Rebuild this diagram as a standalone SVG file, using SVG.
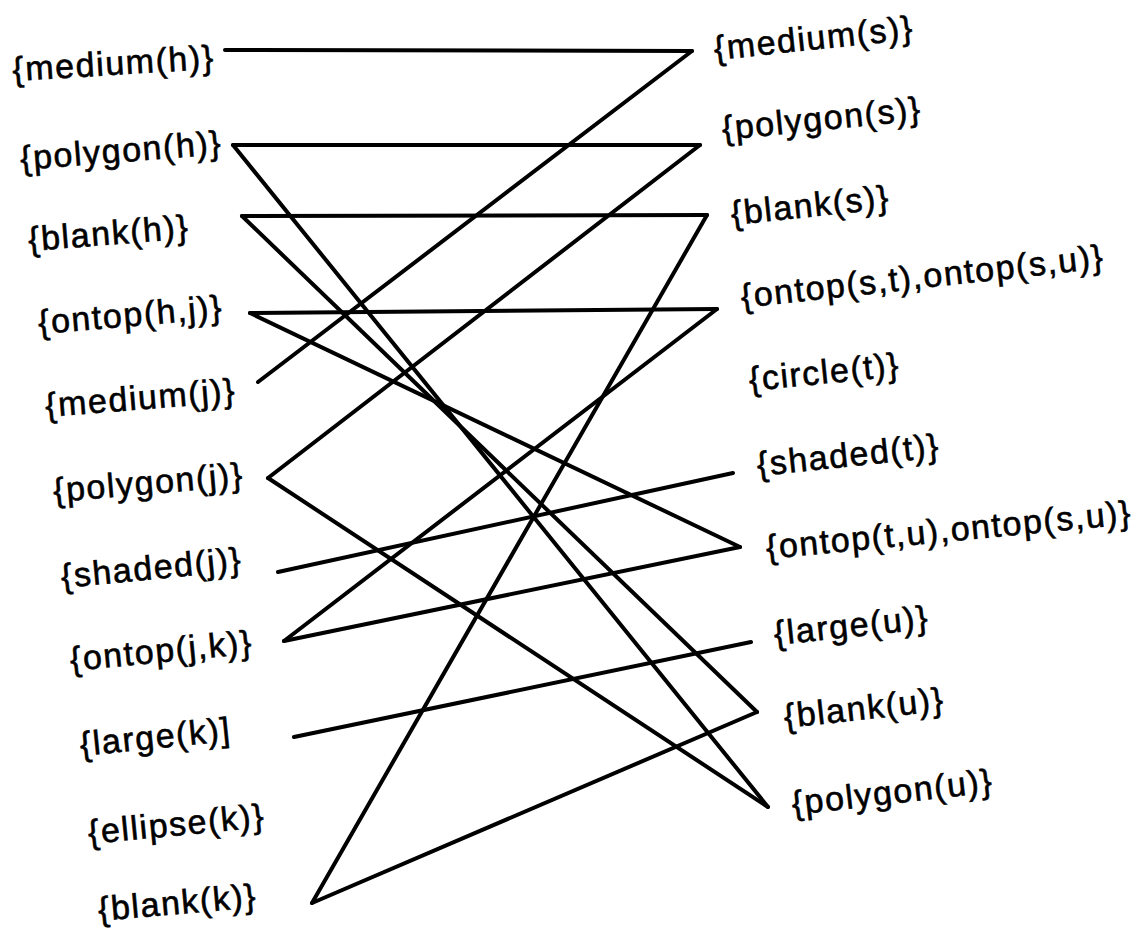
<svg xmlns="http://www.w3.org/2000/svg" width="1138" height="934" viewBox="0 0 1138 934">
<style>
.lbl{font-family:"Liberation Sans",Arial,sans-serif;font-size:34px;letter-spacing:1.6px;fill:#000;stroke:#000;stroke-width:0.6}
.c line{stroke:#000;stroke-width:4;stroke-linecap:round;fill:none}
</style>
<rect width="1138" height="934" fill="#fff"/>
<g id="connectors" class="c">
<line x1="225" y1="50" x2="692" y2="51"/>
<line x1="692" y1="51" x2="258" y2="382"/>
<line x1="233" y1="145" x2="700" y2="145"/>
<line x1="700" y1="145" x2="268" y2="478"/>
<line x1="233" y1="145" x2="768" y2="807"/>
<line x1="242" y1="216" x2="707" y2="215"/>
<line x1="707" y1="215" x2="312" y2="903"/>
<line x1="242" y1="216" x2="757" y2="712"/>
<line x1="250" y1="313" x2="717" y2="309"/>
<line x1="717" y1="309" x2="284" y2="641"/>
<line x1="250" y1="313" x2="740" y2="547"/>
<line x1="284" y1="641" x2="740" y2="547"/>
<line x1="268" y1="478" x2="768" y2="807"/>
<line x1="278" y1="572" x2="733" y2="473"/>
<line x1="294" y1="737" x2="751" y2="642"/>
<line x1="312" y1="903" x2="757" y2="712"/>
</g>
<g id="medium_h"><text class="lbl" x="13" y="81" transform="rotate(-3.5 13 81)">{medium(h)}</text></g>
<g id="polygon_h"><text class="lbl" x="21" y="170" transform="rotate(-4.5 21 170)">{polygon(h)}</text></g>
<g id="blank_h"><text class="lbl" x="29" y="251" transform="rotate(-4.5 29 251)">{blank(h)}</text></g>
<g id="ontop_hj"><text class="lbl" x="39" y="334" transform="rotate(-4.8 39 334)">{ontop(h,j)}</text></g>
<g id="medium_j"><text class="lbl" x="46" y="417" transform="rotate(-4.6 46 417)">{medium(j)}</text></g>
<g id="polygon_j"><text class="lbl" x="54" y="502" transform="rotate(-4.8 54 502)">{polygon(j)}</text></g>
<g id="shaded_j"><text class="lbl" x="62" y="588" transform="rotate(-5.5 62 588)">{shaded(j)}</text></g>
<g id="ontop_jk"><text class="lbl" x="71" y="671" transform="rotate(-5.5 71 671)">{ontop(j,k)}</text></g>
<g id="large_k"><text class="lbl" x="81" y="756" transform="rotate(-5.8 81 756)">{large(k)]</text></g>
<g id="ellipse_k"><text class="lbl" x="89" y="844" transform="rotate(-5.5 89 844)">{ellipse(k)}</text></g>
<g id="blank_k"><text class="lbl" x="99" y="921" transform="rotate(-5 99 921)">{blank(k)}</text></g>
<g id="medium_s"><text class="lbl" x="715" y="60" transform="rotate(-6 715 60)">{medium(s)}</text></g>
<g id="polygon_s"><text class="lbl" x="723" y="140" transform="rotate(-5.7 723 140)">{polygon(s)}</text></g>
<g id="blank_s"><text class="lbl" x="732" y="225" transform="rotate(-6 732 225)">{blank(s)}</text></g>
<g id="ontop_st_su"><text class="lbl" x="742" y="308" transform="rotate(-6.3 742 308)">{ontop(s,t),ontop(s,u)}</text></g>
<g id="circle_t"><text class="lbl" x="750" y="391" transform="rotate(-5.7 750 391)">{circle(t)}</text></g>
<g id="shaded_t"><text class="lbl" x="758" y="476" transform="rotate(-6 758 476)">{shaded(t)}</text></g>
<g id="ontop_tu_su"><text class="lbl" x="767" y="559" transform="rotate(-5.5 767 559)">{ontop(t,u),ontop(s,u)}</text></g>
<g id="large_u"><text class="lbl" x="775" y="645" transform="rotate(-6 775 645)">{large(u)}</text></g>
<g id="blank_u"><text class="lbl" x="785" y="728" transform="rotate(-6.2 785 728)">{blank(u)}</text></g>
<g id="polygon_u"><text class="lbl" x="793" y="815" transform="rotate(-6.5 793 815)">{polygon(u)}</text></g>
</svg>
